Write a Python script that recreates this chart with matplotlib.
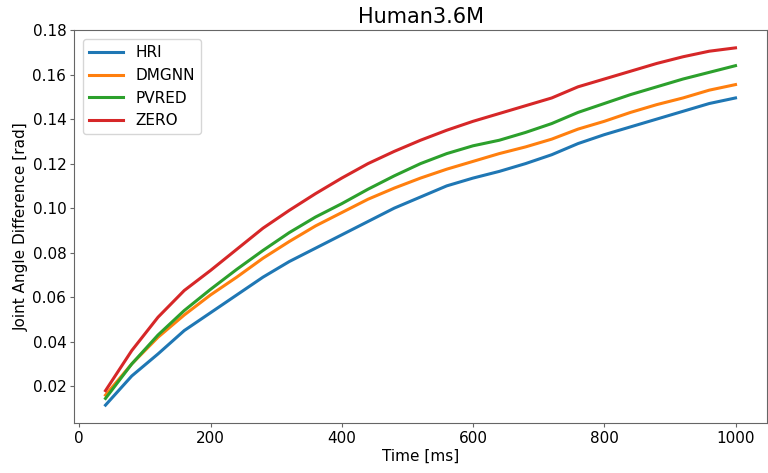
import numpy as np
import matplotlib
matplotlib.use("Agg")
from matplotlib import pyplot as plt

time_ms = np.arange(40, 1001, 40)

hri = [0.0115, 0.0246, 0.0345, 0.045, 0.053, 0.061, 0.069, 0.076, 0.082, 0.088,
       0.094, 0.100, 0.105, 0.110, 0.1135, 0.1165, 0.120, 0.124, 0.129, 0.133,
       0.1365, 0.140, 0.1435, 0.147, 0.1495]
dmgnn = [0.016, 0.030, 0.042, 0.052, 0.061, 0.069, 0.0775, 0.085, 0.092, 0.098,
         0.104, 0.109, 0.1135, 0.1175, 0.121, 0.1245, 0.1275, 0.131, 0.1355, 0.139,
         0.143, 0.1465, 0.1495, 0.153, 0.1555]
pvred = [0.0145, 0.030, 0.043, 0.054, 0.0635, 0.0725, 0.081, 0.089, 0.096, 0.102,
         0.1085, 0.1145, 0.120, 0.1245, 0.128, 0.1305, 0.134, 0.138, 0.143, 0.147,
         0.151, 0.1545, 0.158, 0.161, 0.164]
zero = [0.018, 0.036, 0.051, 0.063, 0.072, 0.0815, 0.091, 0.099, 0.1065, 0.1135,
        0.120, 0.1255, 0.1305, 0.135, 0.139, 0.1425, 0.146, 0.1495, 0.1545, 0.158,
        0.1615, 0.165, 0.168, 0.1705, 0.172]

series = {"HRI": hri, "DMGNN": dmgnn, "PVRED": pvred, "ZERO": zero}

fig, ax = plt.subplots(figsize=(7.68, 4.73), dpi=100)
fig.subplots_adjust(left=74/768, right=767/768, top=1-30/473, bottom=1-423/473)

for name, vals in series.items():
    ax.plot(time_ms, vals, label=name, linewidth=2.2)

ax.set_title("Human3.6M", fontsize=15, pad=5)
ax.set_xlabel("Time [ms]", fontsize=11, labelpad=2)
ax.set_ylabel("Joint Angle Difference [rad]", fontsize=11, labelpad=3)
ax.tick_params(labelsize=11, length=3, pad=2.5, color="0.4")
for sp in ax.spines.values():
    sp.set_color("0.4")
ax.set_yticks(np.arange(0.02, 0.181, 0.02))
ax.legend(fontsize=11, loc="upper left", handlelength=2.2, borderaxespad=0.6)

fig.savefig("out.png")
